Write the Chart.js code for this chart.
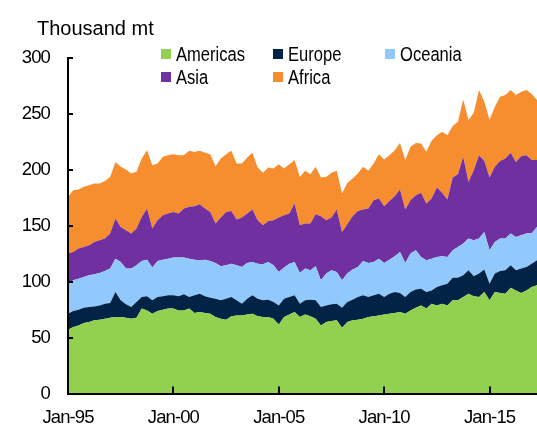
<!DOCTYPE html>
<html lang="en">
<head>
<meta charset="UTF-8">
<title>Thousand mt by region</title>
<script src="https://cdn.jsdelivr.net/npm/chart.js"></script>
<style>
    body { margin: 0; background: #fff; }
    .wrap { position: relative; width: 537px; height: 426px; }
    .wrap canvas { position: absolute; left: 0; top: 0; }
    .unit {
        position: absolute; left: 37px; top: 18px;
        font: 20px/20px 'Liberation Sans', Arial, sans-serif; color: #000;
    }
    .leg {
        position: absolute; white-space: nowrap;
        font: 19.5px/20px 'Liberation Sans', Arial, sans-serif; color: #000;
        transform: scaleX(0.85); transform-origin: 0 0;
    }
    .sw { position: absolute; width: 10px; height: 10px; }
</style>
</head>
<body>
<div class="wrap">
    <canvas id="grafico" width="537" height="426"></canvas>
    <div class="unit">Thousand mt</div>
    <div id="legenda"></div>
</div>
<script>
    // quarterly readings, Jan-95 .. Apr-17 (thousand mt)
    const americas = [
        57, 59.4, 60.9, 63, 63.9, 65.4, 66, 66.9, 67.8, 68.3, 68.3, 67.8, 66.9, 67.8, 75.9, 74.3, 71.4, 73.7, 74.9, 75.9, 75.9, 74.3,
        74.3, 75.9, 71.9, 72.8, 71.9, 71.4, 68.3, 66.9, 66, 69, 69.8, 69.8, 70.7, 71.4, 69, 68.3, 68.3, 66.9, 61.8, 68.3, 70.7, 72.8, 68.3,
        70.7, 69, 66.9, 60.9, 63.9, 64.8, 65.4, 58.8, 63.9, 65.4, 66, 66.9, 68.3, 69, 69.8, 70.7, 71.4, 71.9, 72.8, 71.4, 74.3, 76.7,
        78.8, 75.9, 80.3, 78.8, 80.3, 78.8, 83.3, 83.3, 86.2, 89.3, 86.9, 86.2, 90.7, 83.3, 90.7, 89.8, 89.3, 94.6, 92.2, 89.8, 92.2, 95.2, 96.7
    ];
    const europe = [
        14.4, 14.3, 14, 13.7, 13.4, 12.5, 12.8, 13.4, 13.1, 22.4, 15, 11.9, 10.4, 14, 10.3, 12.6, 11.9, 12.5, 12, 11.9, 11.9, 12.6,
        14.4, 10.3, 15.9, 16.5, 15, 14.3, 16.5, 16.4, 18.8, 17.2, 13.5, 10.5, 14.1, 16.4, 15.8, 15, 15.6, 14.9, 17, 16.5, 15.5, 15, 12,
        12.6, 14.9, 16.4, 16.4, 14.9, 14.9, 14.9, 17.9, 17.9, 18.5, 20.2, 20.9, 17.9, 18.8, 19.5, 15.5, 17.9, 18.8, 17, 14.8, 16.4, 16.2,
        14.9, 14.8, 11.9, 16.4, 16.4, 19.4, 20.3, 20.3, 19.5, 20.8, 17.9, 21, 20.1, 14.9, 16.5, 19.7, 20.8, 20, 17.9, 21.9, 20.9, 20.9, 22.4
    ];
    const oceania = [
        26.8, 27.5, 27.8, 27.5, 28.4, 28.7, 28.9, 29.2, 30.8, 29.9, 34.3, 32, 34.4, 32.8, 32.3, 32.8, 29.3, 32.3, 32.8, 32.8, 33.7, 34.6,
        32.8, 34.4, 31.9, 29.8, 32.8, 32.8, 31.9, 30.4, 29.8, 29.9, 31.3, 32.8, 31.9, 29.8, 31.3, 32.2, 33.7, 32.8, 29.8, 27.8, 29.9, 29.8, 27.4,
        28.4, 26.2, 30.4, 23.9, 28.4, 30.4, 28.3, 24.5, 25.4, 26.9, 26.9, 30.7, 30.5, 29.8, 31.3, 30.5, 30.4, 32, 36.7, 30.5, 34.4, 35.1,
        28.4, 28.4, 28.4, 26.9, 26, 23.9, 24.4, 27.4, 28.4, 28.4, 32.2, 31.3, 33.6, 29.8, 28.3, 29, 28.4, 28.4, 29.9, 29.8, 29.9, 27.5, 29.8
    ];
    const asia = [
        26.9, 25.4, 26.9, 26.8, 26.8, 28.9, 29.3, 29, 31.3, 35.8, 31.3, 34.3, 31.3, 32.9, 39.4, 45.7, 34.9, 36.4, 39.7, 40.3, 40.9, 39.4,
        43.9, 46.3, 47.8, 50.2, 45.7, 43.9, 35.3, 43.6, 47.8, 47.2, 40.9, 44.2, 44.2, 46.9, 38.8, 34.9, 36.7, 40.3, 48.7, 46.8, 44.8, 52.3, 42.7,
        40.3, 41.9, 46.6, 57.3, 47.7, 47.2, 55.9, 43.2, 44.1, 47.7, 50.2, 46, 48.7, 55.2, 53.7, 50.8, 52.5, 53.7, 55.9, 47.8, 47.7, 49.3,
        57.3, 50.8, 53.7, 62.1, 56.7, 51.3, 65.2, 65.1, 77.5, 50.7, 62.7, 74.6, 63.6, 65.2, 67.2, 69.5, 71.7, 72.2, 67.1, 70.7, 70.1, 65.1, 59.8
    ];
    const africa = [
        50.8, 55.2, 52.8, 53.8, 53.8, 52.3, 50.8, 51.6, 50.7, 50.7, 53.8, 54.3, 53.7, 50.7, 52.3, 52.2, 56.7, 50.8, 52.2, 52.2, 51.6, 52.2,
        47.7, 50.1, 48.5, 47.7, 49.8, 51.6, 51.3, 52.9, 51.6, 53.7, 50.2, 48.4, 50.2, 50.7, 47.2, 46.9, 47.8, 46.3, 47.8, 41.8, 44.2, 38.8, 43.3,
        47.1, 44.1, 42.4, 34.7, 38.8, 40, 34.6, 34.4, 37, 33.8, 33.4, 38.2, 33.7, 32.9, 39.7, 41.8, 40.9, 41.2, 41.7, 44.2, 47.8, 46.8,
        44.2, 46.2, 51.7, 46.8, 54.6, 57.6, 45.9, 46.9, 51.4, 55.3, 51.3, 58.2, 52.9, 51.3, 53.7, 57.3, 56.7, 56.1, 59.8, 57.6, 58.2, 59.1, 53.8
    ];
    const tickLabels = ['Jan-95', 'Jan-00', 'Jan-05', 'Jan-10', 'Jan-15'];

    // quarter labels, one per reading
    const meses = ['Jan', 'Apr', 'Jul', 'Oct'];
    const quarters = [];
    for (let ano = 1995; quarters.length < americas.length; ano++) {
        meses.forEach(m => {
            if (quarters.length < americas.length) quarters.push(m + '-' + String(ano).slice(2));
        });
    }

    const series = [
        { label: 'Americas', data: americas, cor: '#92D050' },
        { label: 'Europe', data: europe, cor: '#002346' },
        { label: 'Oceania', data: oceania, cor: '#91C9FC' },
        { label: 'Asia', data: asia, cor: '#7030A0' },
        { label: 'Africa', data: africa, cor: '#F68D2E' }
    ];

    // legend laid out like the original: 3 columns, 2 rows
    const legPos = {
        Americas: [161, 49], Europe: [273, 49], Oceania: [385, 49],
        Asia: [161, 72], Africa: [273, 72]
    };
    const legenda = document.getElementById('legenda');
    series.forEach(s => {
        const [x, y] = legPos[s.label];
        legenda.insertAdjacentHTML('beforeend',
            `<span class="sw" style="left:${x}px;top:${y}px;background:${s.cor}"></span>` +
            `<span class="leg" style="left:${x + 15}px;top:${y - 5}px">${s.label}</span>`);
    });

    const fonte = { family: "'Liberation Sans', Arial, sans-serif", size: 18.5 };

    // the original text is set tight; squeeze the canvas labels a bit
    const apertado = {
        id: 'apertado',
        beforeInit(chart) { chart.ctx.letterSpacing = '-0.9px'; },
        beforeDraw(chart) { chart.ctx.letterSpacing = '-0.9px'; }
    };

    const innerTicks = {
        id: 'innerTicks',
        afterDraw(chart) {
            const { ctx, chartArea, scales } = chart;
            ctx.save();
            ctx.strokeStyle = '#000';
            ctx.lineWidth = 2;
            ctx.beginPath();
            scales.x.ticks.forEach((t, i) => {
                const px = Math.round(scales.x.getPixelForTick(i));
                ctx.moveTo(px, chartArea.bottom);
                ctx.lineTo(px, chartArea.bottom - 7);
            });
            scales.y.ticks.forEach((t, i) => {
                const py = Math.round(scales.y.getPixelForTick(i));
                ctx.moveTo(chartArea.left, py);
                ctx.lineTo(chartArea.left + 5, py);
            });
            ctx.stroke();
            ctx.restore();
        }
    };

    new Chart(document.getElementById('grafico'), {
        type: 'line',
        data: {
            labels: quarters,
            datasets: series.map((s, i) => ({
                label: s.label,
                data: s.data,
                backgroundColor: s.cor,
                borderColor: s.cor,
                borderWidth: 0,
                pointRadius: 0,
                tension: 0,
                fill: i === 0 ? 'origin' : '-1'
            }))
        },
        options: {
            responsive: false,
            animation: false,
            events: [],
            layout: { padding: { top: 58, right: 0, bottom: 0, left: 0 } },
            plugins: { legend: { display: false }, tooltip: { enabled: false } },
            scales: {
                x: {
                    type: 'category',
                    offset: false,
                    grid: { display: false, drawTicks: false },
                    border: { display: true, color: '#000', width: 2, z: 1 },
                    ticks: { autoSkip: false, maxRotation: 0, padding: 13, color: '#000', font: fonte },
                    afterBuildTicks: s => {
                        s.ticks = s.ticks.filter(t => tickLabels.includes(quarters[t.value]));
                    },
                    afterFit: s => { s.height = 32.5; }
                },
                y: {
                    stacked: true,
                    min: 0,
                    max: 300,
                    grid: { display: false, drawTicks: false },
                    border: { display: true, color: '#000', width: 2, z: 1 },
                    ticks: { stepSize: 50, padding: 18, color: '#000', font: fonte },
                    afterFit: s => { s.width = 68; }
                }
            }
        },
        plugins: [apertado, innerTicks]
    });
</script>
</body>
</html>
